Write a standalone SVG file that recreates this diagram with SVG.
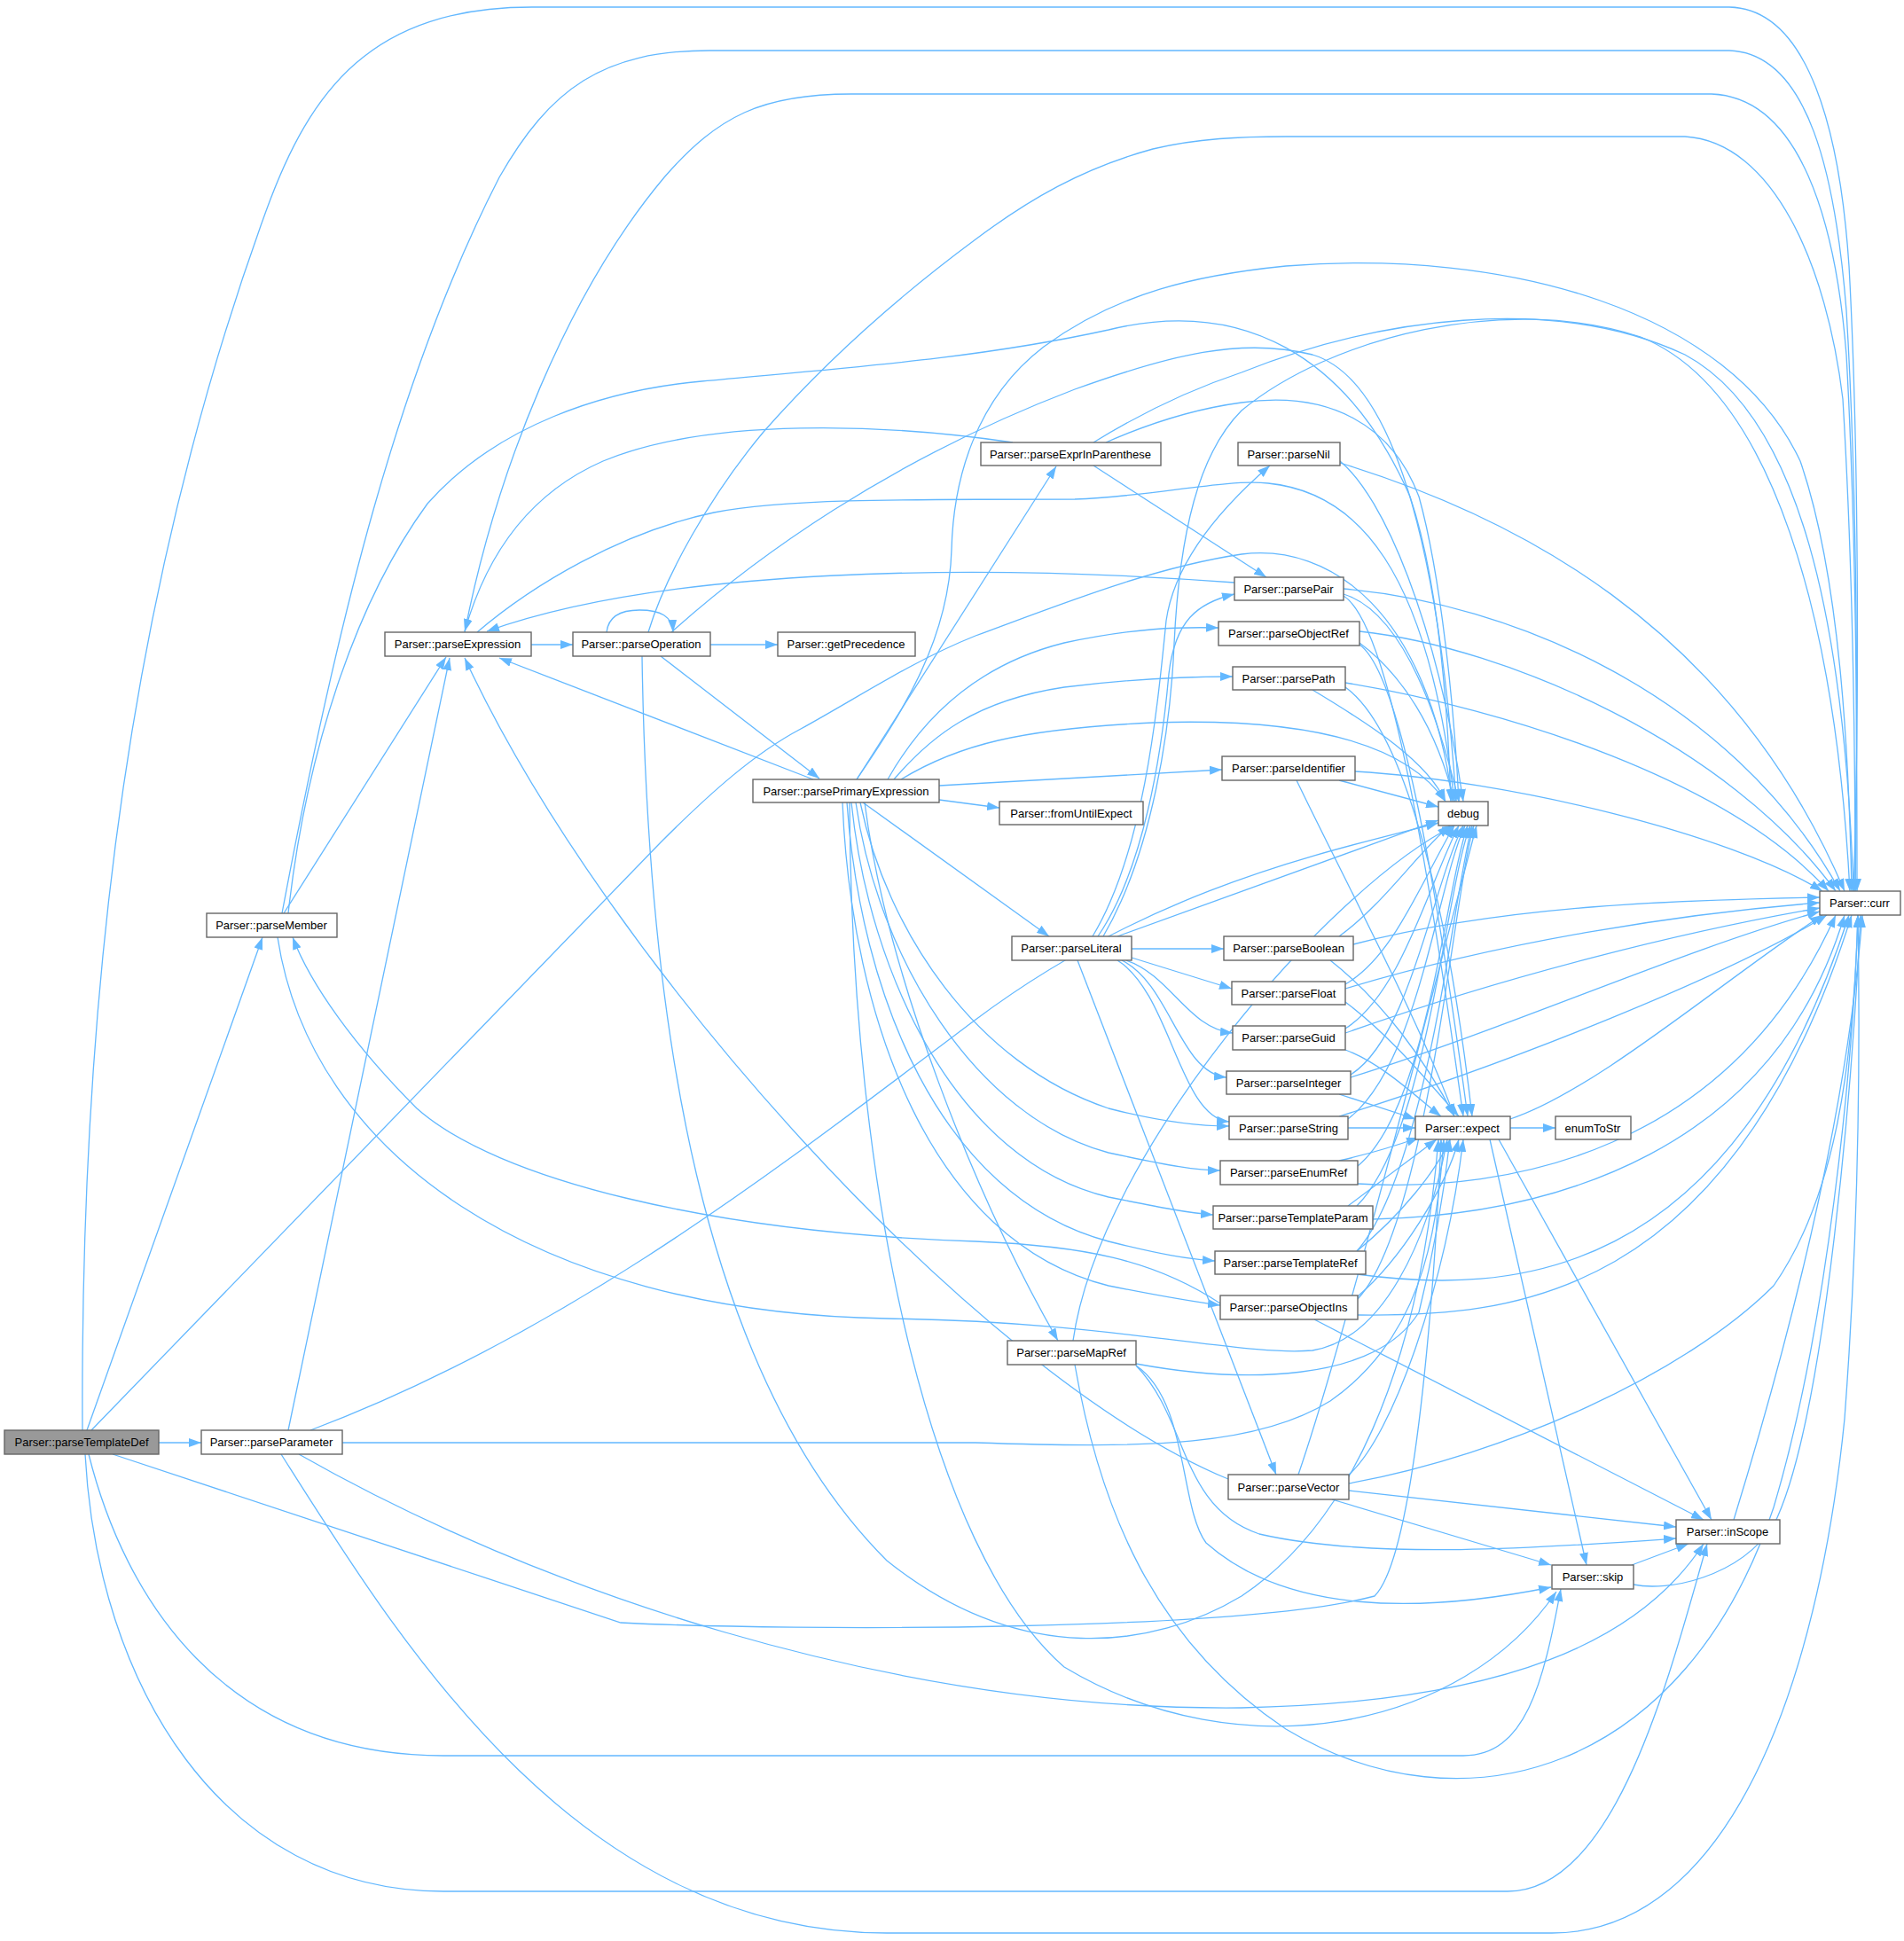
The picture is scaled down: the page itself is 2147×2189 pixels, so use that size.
<svg xmlns="http://www.w3.org/2000/svg" width="2147" height="2189" viewBox="0 0 2147 2189">
<defs>
<marker id="a" viewBox="0 0 14 10" refX="14" refY="5" markerWidth="14" markerHeight="10" markerUnits="userSpaceOnUse" orient="auto"><path d="M0,0 L14,5 L0,10 z" fill="#63b8ff"/></marker>
<style>
.n rect{fill:#fff;stroke:#666;stroke-width:1.4}
.n text{font-family:"Liberation Sans",Arial,sans-serif;font-size:13px;text-anchor:middle;fill:#000}
#edges path{fill:none;stroke:#63b8ff;stroke-width:1.3;marker-end:url(#a)}
</style>
</defs>
<rect width="2147" height="2189" fill="#fff"/>
<g id="edges">
<path d="M179,1627 L227,1627"/>
<path d="M98,1613 L296,1057"/>
<path d="M93,1613 C90,1100 150,650 300,238 C350,100 420,8 600,8 L1950,8 C2040,10 2075,150 2085,300 C2096,500 2097,800 2090,1005"/>
<path d="M103,1613 L745,950 C800,895 850,850 903,822 C970,785 1030,745 1100,717 C1200,680 1300,640 1400,625 C1500,612 1610,690 1638,904"/>
<path d="M100,1640 C140,1800 250,1980 500,1980 L1650,1980 C1720,1980 1740,1900 1760,1792"/>
<path d="M96,1640 C110,1900 250,2133 500,2133 L1700,2133 C1820,2133 1880,1900 1925,1741"/>
<path d="M127,1640 L700,1830 C900,1840 1400,1840 1550,1800 C1600,1750 1620,1400 1625,1285"/>
<path d="M325,1613 L507,742"/>
<path d="M350,1613 C650,1500 900,1300 1100,1150 C1300,1000 1500,960 1622,928"/>
<path d="M386,1627 L1100,1627 C1300,1634 1420,1630 1500,1580 C1600,1510 1620,1400 1628,1285"/>
<path d="M337,1640 C600,1790 1000,1930 1400,1926 C1700,1920 1850,1850 1921,1741"/>
<path d="M317,1640 C450,1850 650,2180 1000,2180 L1750,2180 C1950,2180 2050,1900 2080,1600 C2095,1400 2098,1200 2095,1032"/>
<path d="M320,1030 L503,741"/>
<path d="M318,1030 C380,700 450,420 563,200 C620,100 680,57 800,57 L1950,57 C2040,60 2070,200 2082,350 C2094,550 2095,800 2092,1005"/>
<path d="M325,1030 C345,850 400,680 482,568 C560,480 680,440 791,430 C950,415 1100,405 1250,372 C1400,335 1520,400 1590,560 C1620,650 1632,780 1636,904"/>
<path d="M313,1057 C350,1300 600,1480 1000,1487 C1250,1490 1400,1530 1480,1523 C1560,1510 1610,1400 1632,1285"/>
<path d="M1376,1470 C1300,1420 1220,1405 1100,1400 C800,1390 560,1330 470,1250 C400,1180 350,1110 330,1057"/>
<path d="M599,727 L646,727"/>
<path d="M524,713 C560,530 640,330 749,200 C810,130 860,106 960,106 L1930,106 C2030,110 2070,250 2082,400 C2093,600 2094,800 2094,1005"/>
<path d="M538,713 C600,660 700,600 805,578 C880,563 1000,563 1212,563 C1300,560 1380,540 1430,545 C1530,555 1610,640 1640,904"/>
<path d="M801,727 L877,727"/>
<path d="M684,713 C686,695 700,688 721,688 C745,688 758,695 759,713"/>
<path d="M745,740 L924,878"/>
<path d="M731,713 C750,650 800,560 861,487 C920,420 1000,344 1100,270 C1160,225 1220,190 1300,168 C1350,156 1400,154 1450,154 L1900,154 C2000,160 2060,300 2078,450 C2090,650 2092,850 2092,1005"/>
<path d="M757,713 C850,630 1000,520 1212,439 C1320,400 1400,380 1480,400 C1580,430 1625,650 1642,904"/>
<path d="M724,740 C730,1150 790,1550 1000,1760 C1150,1880 1300,1860 1400,1800 C1520,1720 1600,1550 1622,1285"/>
<path d="M917,879 L563,742"/>
<path d="M1059,902 L1127,911"/>
<path d="M966,879 L1191,526"/>
<path d="M973,905 L1183,1056"/>
<path d="M975,905 C1000,1100 1100,1350 1193,1512"/>
<path d="M1059,886 C1200,878 1300,872 1378,868"/>
<path d="M1001,879 C1040,810 1100,750 1200,725 C1280,708 1330,707 1374,708"/>
<path d="M1008,879 C1050,830 1100,790 1200,775 C1280,765 1340,763 1390,763"/>
<path d="M970,905 C1000,1050 1100,1200 1250,1250 C1320,1268 1360,1270 1386,1270"/>
<path d="M965,905 C990,1080 1100,1260 1250,1300 C1320,1315 1350,1320 1376,1320"/>
<path d="M960,905 C980,1100 1080,1310 1250,1350 C1310,1362 1340,1368 1368,1370"/>
<path d="M955,905 C970,1120 1060,1350 1250,1400 C1310,1415 1340,1420 1370,1422"/>
<path d="M950,905 C960,1150 1050,1400 1250,1450 C1310,1462 1345,1468 1376,1472"/>
<path d="M1016,879 C1080,840 1150,822 1300,815 C1450,810 1580,830 1630,904"/>
<path d="M966,879 C1020,800 1070,720 1073,620 C1075,540 1100,450 1177,391 C1260,330 1350,310 1450,300 C1700,280 1950,350 2030,520 C2075,650 2085,850 2088,1005"/>
<path d="M958,905 C960,1350 1050,1750 1200,1880 C1400,2000 1650,1950 1755,1795"/>
<path d="M1142,499 C1000,478 800,470 680,520 C600,555 550,620 524,712"/>
<path d="M1233,525 L1428,651"/>
<path d="M1247,499 C1290,480 1340,462 1400,454 C1500,440 1570,480 1600,560 C1625,650 1640,800 1645,904"/>
<path d="M1233,499 C1280,470 1340,440 1400,420 C1550,360 1750,330 1900,400 C2030,470 2080,700 2090,1005"/>
<path d="M1511,520 C1560,560 1620,700 1650,904"/>
<path d="M1511,522 C1700,580 1950,700 2080,1005"/>
<path d="M1392,657 C1100,635 750,640 549,712"/>
<path d="M1515,670 C1580,690 1620,800 1645,904"/>
<path d="M1515,672 C1560,700 1600,900 1650,1259"/>
<path d="M1515,664 C1700,680 1950,780 2075,1005"/>
<path d="M1533,725 C1580,760 1620,820 1640,904"/>
<path d="M1533,727 C1580,760 1620,1000 1655,1259"/>
<path d="M1533,712 C1700,730 1950,840 2070,1005"/>
<path d="M1480,778 C1550,820 1610,860 1630,904"/>
<path d="M1517,775 C1580,820 1630,1000 1660,1259"/>
<path d="M1517,770 C1700,800 1950,880 2062,1005"/>
<path d="M1510,880 L1622,910"/>
<path d="M1462,880 C1520,1000 1600,1150 1640,1259"/>
<path d="M1528,870 C1700,880 1950,940 2055,1005"/>
<path d="M1276,1070 L1380,1070"/>
<path d="M1276,1080 L1389,1115"/>
<path d="M1270,1083 C1320,1100 1340,1160 1390,1165"/>
<path d="M1265,1083 C1320,1110 1330,1210 1383,1215"/>
<path d="M1260,1083 C1320,1120 1330,1260 1386,1265"/>
<path d="M1232,1056 C1290,960 1305,800 1315,700 C1325,630 1380,570 1432,525"/>
<path d="M1238,1056 C1290,980 1310,850 1318,760 C1325,700 1350,680 1392,670"/>
<path d="M1244,1056 C1300,960 1320,820 1324,726 C1330,600 1352,511 1400,463 C1500,380 1700,330 1850,380 C2000,440 2070,700 2086,1005"/>
<path d="M1215,1083 L1439,1663"/>
<path d="M1260,1056 L1622,925"/>
<path d="M1210,1512 C1240,1300 1500,1000 1640,931"/>
<path d="M1281,1538 C1400,1560 1550,1560 1600,1480 C1620,1400 1630,1330 1635,1285"/>
<path d="M1281,1540 C1340,1580 1330,1700 1360,1740 C1450,1820 1600,1820 1749,1790"/>
<path d="M1281,1540 C1340,1600 1330,1700 1420,1730 C1550,1760 1750,1745 1890,1735"/>
<path d="M1212,1539 C1240,1700 1300,1850 1450,1950 C1650,2070 1900,2000 2000,1700 C2060,1500 2090,1200 2095,1032"/>
<path d="M1510,1056 C1560,1020 1600,960 1635,931"/>
<path d="M1500,1083 C1560,1130 1610,1200 1640,1259"/>
<path d="M1526,1065 C1700,1020 1900,1015 2052,1012"/>
<path d="M1517,1110 C1570,1080 1600,1000 1640,931"/>
<path d="M1517,1130 C1570,1170 1610,1220 1645,1259"/>
<path d="M1517,1115 C1700,1060 1900,1030 2052,1018"/>
<path d="M1517,1160 C1580,1120 1610,1000 1645,931"/>
<path d="M1517,1184 C1560,1200 1600,1240 1625,1259"/>
<path d="M1517,1165 C1700,1100 1900,1050 2052,1024"/>
<path d="M1523,1212 C1590,1170 1615,1000 1650,931"/>
<path d="M1510,1234 L1596,1262"/>
<path d="M1523,1215 C1700,1160 1900,1070 2052,1028"/>
<path d="M1520,1262 C1600,1200 1620,1000 1652,931"/>
<path d="M1520,1272 L1596,1272"/>
<path d="M1510,1259 C1700,1200 1950,1100 2060,1032"/>
<path d="M1531,1315 C1610,1250 1630,1000 1655,931"/>
<path d="M1510,1309 C1550,1300 1580,1290 1600,1283"/>
<path d="M1531,1335 C1700,1345 1950,1300 2070,1032"/>
<path d="M1530,1360 C1610,1280 1630,1000 1658,931"/>
<path d="M1520,1360 C1560,1330 1600,1300 1620,1285"/>
<path d="M1548,1375 C1750,1370 2000,1300 2080,1032"/>
<path d="M1530,1411 C1610,1320 1640,1000 1660,931"/>
<path d="M1530,1411 C1580,1370 1620,1320 1635,1285"/>
<path d="M1530,1437 C1700,1460 1950,1450 2085,1032"/>
<path d="M1531,1465 C1610,1380 1640,1000 1662,931"/>
<path d="M1531,1462 C1580,1420 1630,1340 1645,1285"/>
<path d="M1531,1483 C1700,1485 1950,1470 2088,1032"/>
<path d="M1482,1488 L1921,1714"/>
<path d="M1385,1668 C1100,1550 680,1080 524,742"/>
<path d="M1464,1663 C1520,1500 1620,1100 1665,931"/>
<path d="M1521,1663 C1570,1620 1630,1450 1650,1285"/>
<path d="M1521,1673 C1700,1640 1900,1550 2000,1450 C2070,1350 2090,1200 2095,1032"/>
<path d="M1521,1681 L1890,1722"/>
<path d="M1502,1691 L1749,1765"/>
<path d="M1703,1272 L1754,1272"/>
<path d="M1703,1262 C1800,1230 1950,1100 2055,1032"/>
<path d="M1680,1285 L1789,1765"/>
<path d="M1690,1285 L1930,1714"/>
<path d="M1840,1765 L1904,1741"/>
<path d="M1842,1787 C1880,1795 1960,1780 2000,1720 C2060,1600 2090,1200 2098,1032"/>
<path d="M1955,1714 C1990,1600 2080,1300 2100,1032"/>
</g>
<g id="parseTemplateDef" class="n"><rect x="5" y="1613" width="174" height="27" style="fill:#999"/><text x="92" y="1631">Parser::parseTemplateDef</text></g>
<g id="parseParameter" class="n"><rect x="227" y="1613" width="159" height="27"/><text x="306" y="1631">Parser::parseParameter</text></g>
<g id="parseMember" class="n"><rect x="233" y="1030" width="147" height="27"/><text x="306" y="1048">Parser::parseMember</text></g>
<g id="parseExpression" class="n"><rect x="434" y="713" width="165" height="27"/><text x="516" y="731">Parser::parseExpression</text></g>
<g id="parseOperation" class="n"><rect x="646" y="713" width="155" height="27"/><text x="723" y="731">Parser::parseOperation</text></g>
<g id="getPrecedence" class="n"><rect x="877" y="713" width="155" height="27"/><text x="954" y="731">Parser::getPrecedence</text></g>
<g id="parsePrimaryExpression" class="n"><rect x="849" y="879" width="210" height="26"/><text x="954" y="897">Parser::parsePrimaryExpression</text></g>
<g id="fromUntilExpect" class="n"><rect x="1127" y="904" width="162" height="26"/><text x="1208" y="922">Parser::fromUntilExpect</text></g>
<g id="parseExprInParenthese" class="n"><rect x="1106" y="499" width="203" height="26"/><text x="1207" y="517">Parser::parseExprInParenthese</text></g>
<g id="parseLiteral" class="n"><rect x="1141" y="1056" width="135" height="27"/><text x="1208" y="1074">Parser::parseLiteral</text></g>
<g id="parseMapRef" class="n"><rect x="1136" y="1512" width="145" height="27"/><text x="1208" y="1530">Parser::parseMapRef</text></g>
<g id="parseNil" class="n"><rect x="1396" y="499" width="115" height="26"/><text x="1453" y="517">Parser::parseNil</text></g>
<g id="parsePair" class="n"><rect x="1392" y="651" width="123" height="26"/><text x="1453" y="669">Parser::parsePair</text></g>
<g id="parseObjectRef" class="n"><rect x="1374" y="701" width="159" height="27"/><text x="1453" y="719">Parser::parseObjectRef</text></g>
<g id="parsePath" class="n"><rect x="1390" y="752" width="127" height="26"/><text x="1453" y="770">Parser::parsePath</text></g>
<g id="parseIdentifier" class="n"><rect x="1378" y="853" width="150" height="27"/><text x="1453" y="871">Parser::parseIdentifier</text></g>
<g id="parseBoolean" class="n"><rect x="1380" y="1056" width="146" height="27"/><text x="1453" y="1074">Parser::parseBoolean</text></g>
<g id="parseFloat" class="n"><rect x="1389" y="1107" width="128" height="26"/><text x="1453" y="1125">Parser::parseFloat</text></g>
<g id="parseGuid" class="n"><rect x="1390" y="1157" width="127" height="27"/><text x="1453" y="1175">Parser::parseGuid</text></g>
<g id="parseInteger" class="n"><rect x="1383" y="1208" width="140" height="26"/><text x="1453" y="1226">Parser::parseInteger</text></g>
<g id="parseString" class="n"><rect x="1386" y="1259" width="134" height="26"/><text x="1453" y="1277">Parser::parseString</text></g>
<g id="parseEnumRef" class="n"><rect x="1376" y="1309" width="155" height="27"/><text x="1453" y="1327">Parser::parseEnumRef</text></g>
<g id="parseTemplateParam" class="n"><rect x="1368" y="1360" width="180" height="26"/><text x="1458" y="1378">Parser::parseTemplateParam</text></g>
<g id="parseTemplateRef" class="n"><rect x="1370" y="1411" width="170" height="26"/><text x="1455" y="1429">Parser::parseTemplateRef</text></g>
<g id="parseObjectIns" class="n"><rect x="1376" y="1461" width="155" height="27"/><text x="1453" y="1479">Parser::parseObjectIns</text></g>
<g id="parseVector" class="n"><rect x="1385" y="1663" width="136" height="28"/><text x="1453" y="1682">Parser::parseVector</text></g>
<g id="debug" class="n"><rect x="1622" y="904" width="56" height="27"/><text x="1650" y="922">debug</text></g>
<g id="expect" class="n"><rect x="1596" y="1259" width="107" height="26"/><text x="1649" y="1277">Parser::expect</text></g>
<g id="enumToStr" class="n"><rect x="1754" y="1259" width="85" height="26"/><text x="1796" y="1277">enumToStr</text></g>
<g id="skip" class="n"><rect x="1750" y="1765" width="92" height="27"/><text x="1796" y="1783">Parser::skip</text></g>
<g id="inScope" class="n"><rect x="1890" y="1714" width="117" height="27"/><text x="1948" y="1732">Parser::inScope</text></g>
<g id="curr" class="n"><rect x="2052" y="1005" width="91" height="27"/><text x="2097" y="1023">Parser::curr</text></g>
</svg>
